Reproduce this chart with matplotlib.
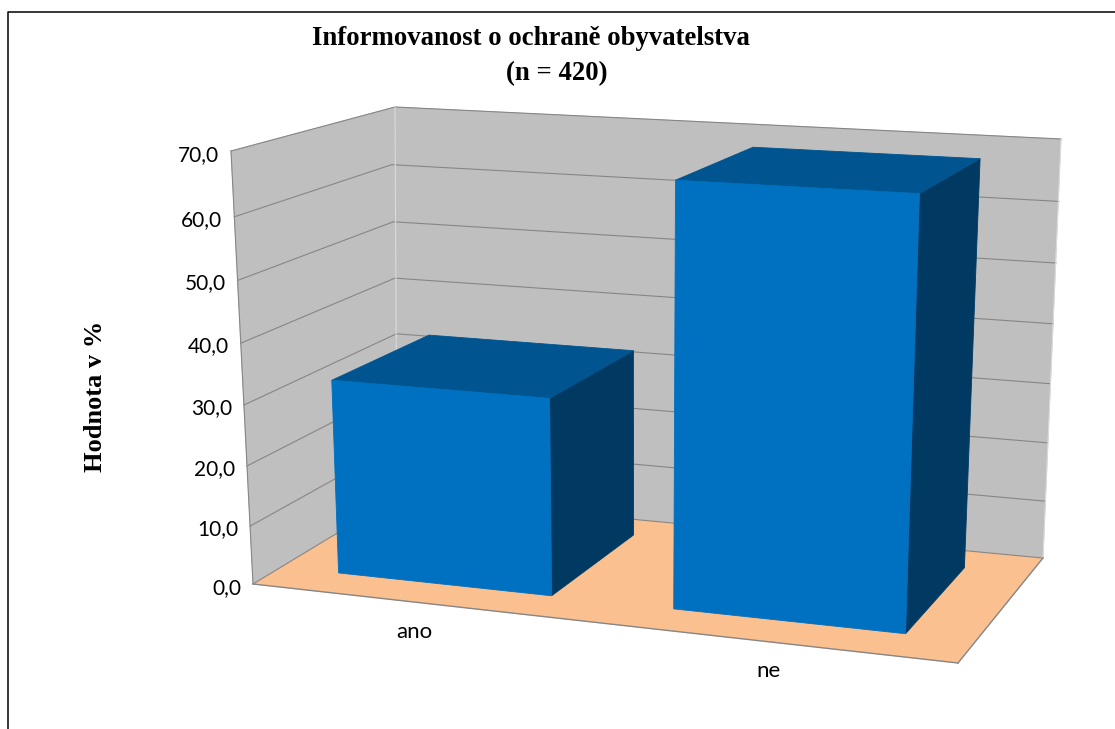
import numpy as np
import matplotlib
matplotlib.use("Agg")
import matplotlib.pyplot as plt
from matplotlib.patches import Polygon

# Data
categories = ["ano", "ne"]
values = [32.4, 67.6]
ticks = [0, 10, 20, 30, 40, 50, 60, 70]
ymax = 70.0

# Box corners in the picture, in pixels
front_bottom_left = (253, 584)
front_top_left = (231, 151)
back_bottom_left = (397, 497)
back_top_left = (395, 107)
back_bottom_right = (1043, 558)
back_top_right = (1061, 139)
front_bottom_right = (958, 663)

# Camera fitted on the box: (x, value/ymax, depth) -> picture
box_model = [(0, 0, 0), (0, 1, 0), (0, 0, 1), (0, 1, 1), (1, 0, 1), (1, 1, 1), (1, 0, 0)]
box_pixels = [(253, 584), (226, 151), (397, 497), (394, 107), (1043, 558), (1061, 139), (958, 663)]
rows = []
for (x, y, z), (u, v) in zip(box_model, box_pixels):
    rows.append([x, y, z, 1, 0, 0, 0, 0, -u * x, -u * y, -u * z, -u])
    rows.append([0, 0, 0, 0, x, y, z, 1, -v * x, -v * y, -v * z, -v])
P = np.linalg.svd(np.array(rows, dtype=float))[2][-1].reshape(3, 4)


def proj(x, val, z):
    p = P @ np.array([x, val / ymax, z, 1.0])
    return p[0] / p[2], p[1] / p[2]


def front_edge(val):
    # point on the drawn front left edge at the height the camera gives
    y = proj(0, val, 0)[1] + 1
    f = (y - front_top_left[1]) / (front_bottom_left[1] - front_top_left[1])
    return front_top_left[0] + f * (front_bottom_left[0] - front_top_left[0]), y


def face(ax, corners, color, zorder=2, edge=None):
    pts = [proj(*c) for c in corners]
    ax.add_patch(Polygon(pts, closed=True, facecolor=color, edgecolor=edge or color,
                         linewidth=0.6, zorder=zorder))


def seg(ax, a, b, color, lw=0.8, zorder=3):
    ax.plot([a[0], b[0]], [a[1], b[1]], color=color, lw=lw, zorder=zorder)


fig = plt.figure(figsize=(11.15, 7.29), dpi=100)
ax = fig.add_axes([0, 0, 1, 1])
ax.set_xlim(0, 1115)
ax.set_ylim(729, 0)
ax.axis("off")

wall = "#BFBFBF"
floor = "#FAC090"
grid = "#868686"
light = "#DADADA"

# Outer frame, runs off the right and bottom of the picture
ax.plot([8, 8, 1115], [729, 11.5, 11.5], color="black", lw=1.1, zorder=1)

# Walls and floor
ax.add_patch(Polygon([front_bottom_left, front_top_left, back_top_left, back_bottom_left],
                     facecolor=wall, edgecolor=wall, lw=0.5, zorder=2))
ax.add_patch(Polygon([back_bottom_left, back_top_left, back_top_right, back_bottom_right],
                     facecolor=wall, edgecolor=wall, lw=0.5, zorder=2))
ax.add_patch(Polygon([front_bottom_left, back_bottom_left, back_bottom_right, front_bottom_right],
                     facecolor=floor, edgecolor=floor, lw=0.5, zorder=2))

# Gridlines
for t in ticks:
    a = front_edge(t)
    b = proj(0, t, 1)
    c = proj(1, t, 1)
    if t == ticks[-1]:
        a, b, c = front_top_left, back_top_left, back_top_right
    if t == ticks[0]:
        a, b, c = front_bottom_left, back_bottom_left, back_bottom_right
    ax.plot([a[0], b[0], c[0]], [a[1], b[1], c[1]], color=grid, lw=0.8, zorder=3)
seg(ax, front_bottom_left, front_top_left, grid)
seg(ax, back_bottom_left, back_top_left, light)
seg(ax, back_bottom_right, back_top_right, light)
seg(ax, front_bottom_left, front_bottom_right, grid, lw=1.0)
seg(ax, front_bottom_right, back_bottom_right, grid, lw=1.0)

# Bars
gap_x = 0.091
step = 0.496
bar_w = 0.32
z0, z1 = 0.185, 0.835
for i, val in enumerate(values):
    x0 = gap_x + i * step
    x1 = x0 + bar_w
    face(ax, [(x1, 0, z0), (x1, 0, z1), (x1, val, z1), (x1, val, z0)], "#003A63", zorder=4 + i)
    face(ax, [(x0, val, z0), (x0, val, z1), (x1, val, z1), (x1, val, z0)], "#005490", zorder=4 + i)
    face(ax, [(x0, 0, z0), (x0, val, z0), (x1, val, z0), (x1, 0, z0)], "#0070C0", zorder=4 + i)

# Tick labels
for t in ticks:
    u, v = front_edge(t)
    ax.text(u - 12, v + 3, f"{t:.1f}".replace(".", ","), ha="right", va="center",
            fontsize=15, family="Lato", color="black")

# Category labels
for i, name in enumerate(categories):
    u, v = proj((i + 0.5) / 2, 0, 0)
    ax.text(u - 1, v + 29.5, name, ha="center", va="center", fontsize=16, family="Lato", color="black")

ax.text(531, 38, "Informovanost o ochraně obyvatelstva", ha="center", va="center",
        fontsize=19.3, fontweight="bold", family="Liberation Serif")
ax.text(557, 74, "(n = 420)", ha="center", va="center",
        fontsize=19.3, fontweight="bold", family="Liberation Serif")
ax.text(96, 396, "Hodnota v %", ha="center", va="center", rotation=90,
        fontsize=19, fontweight="bold", family="Liberation Serif")

fig.savefig("out.png", dpi=100)
